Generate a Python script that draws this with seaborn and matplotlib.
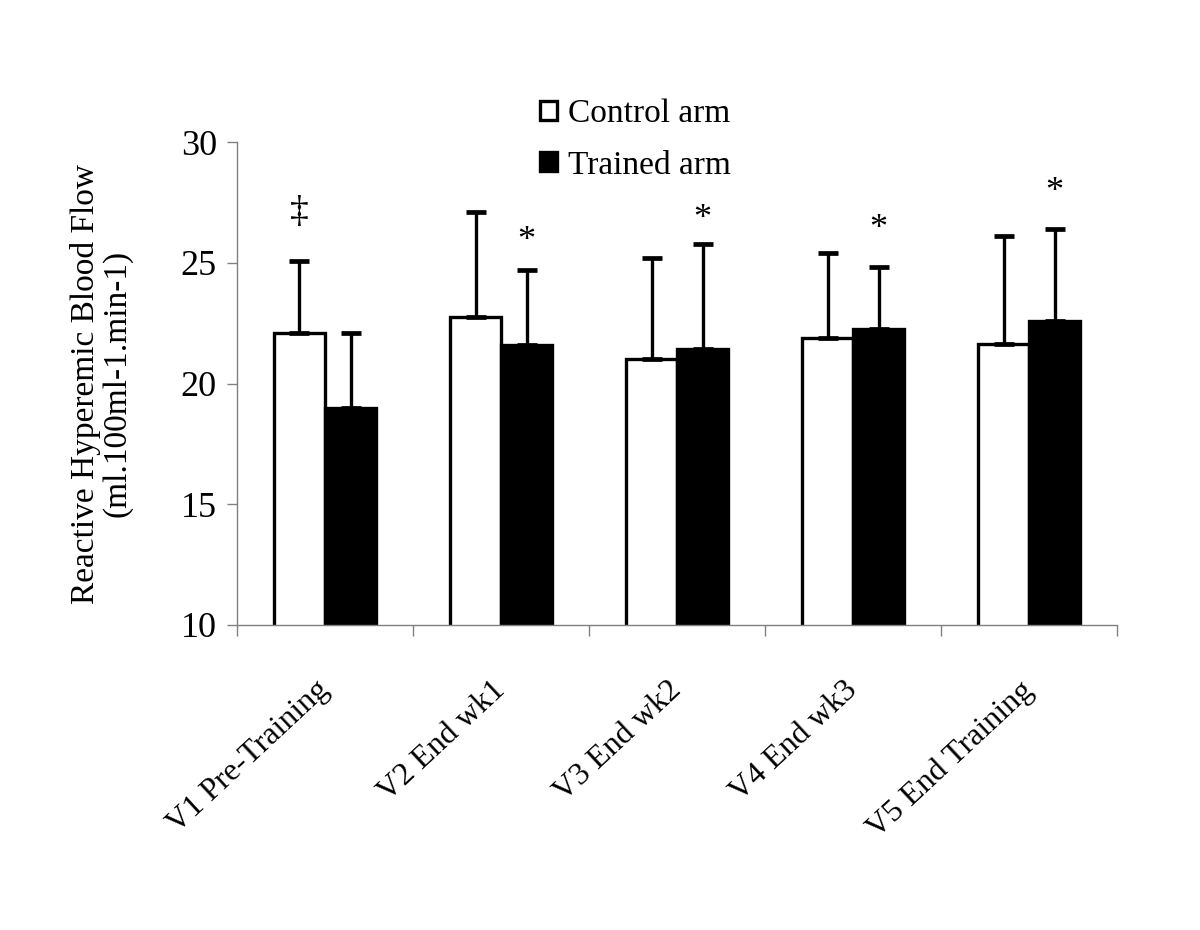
import numpy as np
import pandas as pd
import matplotlib
matplotlib.use('Agg')
import matplotlib.pyplot as plt
import seaborn as sns

# ---- data ----
visits = ['V1 Pre-Training', 'V2 End wk1', 'V3 End wk2', 'V4 End wk3', 'V5 End Training']
control_mean = [22.1, 22.75, 21.0, 21.9, 21.65]
control_sd = [3.0, 4.35, 4.2, 3.5, 4.45]
trained_mean = [19.0, 21.6, 21.45, 22.25, 22.6]
trained_sd = [3.1, 3.1, 4.35, 2.6, 3.8]
# significance marks: symbol, arm it sits over, height
sig_marks = ['‡', '*', '*', '*', '*']
sig_arm = ['Control arm', 'Trained arm', 'Trained arm', 'Trained arm', 'Trained arm']
sig_y = [27.1, 25.9, 26.8, 26.4, 27.9]

arms = ['Control arm', 'Trained arm']
df = pd.DataFrame({
    'visit': visits * 2,
    'arm': [arms[0]] * 5 + [arms[1]] * 5,
    'flow': control_mean + trained_mean,
    'sd': control_sd + trained_sd,
})

sns.set_theme(style='white')
plt.rcParams['font.family'] = ['Liberation Serif', 'DejaVu Serif']
plt.rcParams['text.color'] = 'black'
plt.rcParams['axes.labelcolor'] = 'black'
plt.rcParams['xtick.color'] = 'black'
plt.rcParams['ytick.color'] = 'black'

fig = plt.figure(figsize=(12, 9.3), dpi=100)
ax = fig.add_axes([0.1975, 0.328, 0.7335, 0.519])

sns.barplot(data=df, x='visit', y='flow', hue='arm', order=visits, hue_order=arms,
            palette=['white', 'black'], edgecolor='black', linewidth=2.4,
            width=0.58, errorbar=None, ax=ax)

# upper-only error bars, positioned on the drawn bars
for i, arm in enumerate(arms):
    patches = ax.patches[i * 5:(i + 1) * 5]
    sub = df[df['arm'] == arm]
    xs = [p.get_x() + p.get_width() / 2 for p in patches]
    ax.errorbar(xs, sub['flow'], yerr=[np.zeros(5), sub['sd']], fmt='none',
                ecolor='black', elinewidth=2.4, capsize=7.5, capthick=3.4, zorder=1)
    for j in range(5):
        if sig_arm[j] == arm:
            ax.text(xs[j], sig_y[j], sig_marks[j], ha='center', va='center',
                    fontsize=27 if sig_marks[j] == '‡' else 26, color='black')

ax.set_ylim(10, 30)
ax.set_xlim(-0.5, 4.5)
ax.set_yticks([10, 15, 20, 25, 30])
ax.set_xlabel('')
ax.set_ylabel('Reactive Hyperemic Blood Flow\n(ml.100ml-1.min-1)', fontsize=24,
              linespacing=1.0)
ax.yaxis.set_label_coords(-0.119, 0.5)

for s in ['top', 'right']:
    ax.spines[s].set_visible(False)
for s in ['left', 'bottom']:
    ax.spines[s].set_color('#808080')
    ax.spines[s].set_linewidth(1.0)

ax.tick_params(axis='y', direction='out', length=7.5, width=1, color='#808080',
               labelcolor='black', labelsize=26, pad=7, left=True)
ax.set_xticks(range(5))
ax.set_xticklabels(visits, rotation=43, ha='right', va='center',
                   rotation_mode='anchor', fontsize=23)
ax.tick_params(axis='x', which='major', length=0, pad=44, labelcolor='black')
ax.set_xticks(np.arange(-0.5, 5, 1), minor=True)
ax.tick_params(axis='x', which='minor', direction='out', length=8, width=1,
               color='#808080', bottom=True)

handles, labels = ax.get_legend_handles_labels()
leg = ax.legend(handles, labels, loc='upper left', bbox_to_anchor=(0.439, 0.908),
                bbox_transform=fig.transFigure, frameon=False, fontsize=24,
                handlelength=0.5, handleheight=0.5, handletextpad=0.35,
                labelspacing=0.62, borderaxespad=0)

fig.savefig('out.png', dpi=100, facecolor='white')
